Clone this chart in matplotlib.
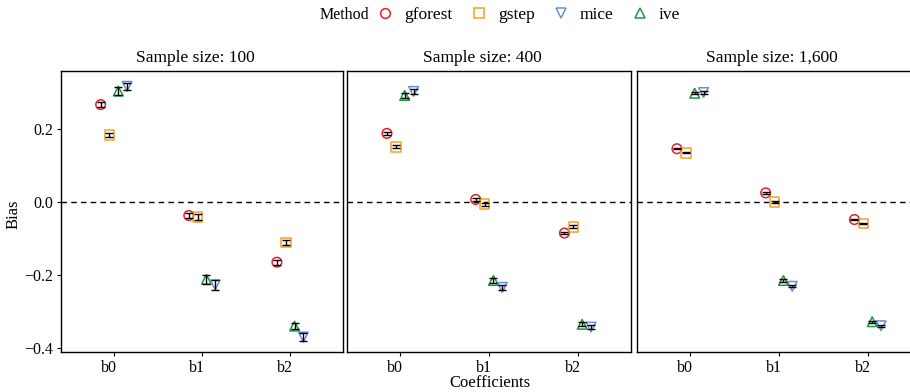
import matplotlib
matplotlib.use("Agg")
import matplotlib.pyplot as plt
import matplotlib.transforms as mtransforms
import numpy as np

plt.rcParams['font.family'] = ['Liberation Serif', 'DejaVu Serif']

coefs = ["b0", "b1", "b2"]
methods = ["gforest", "gstep", "mice", "ive"]
dodge_order = ["gforest", "gstep", "ive", "mice"]
panels = ["Sample size: 100", "Sample size: 400", "Sample size: 1,600"]

# bias values per panel, per method, per coefficient (b0, b1, b2)
bias_100 = {
    "gforest": [0.268, -0.036, -0.164],
    "gstep":   [0.185, -0.040, -0.110],
    "mice":    [0.318, -0.226, -0.369],
    "ive":     [0.305, -0.211, -0.339],
}
se_100 = {
    "gforest": [0.007, 0.008, 0.007],
    "gstep":   [0.006, 0.008, 0.006],
    "mice":    [0.010, 0.013, 0.010],
    "ive":     [0.010, 0.013, 0.009],
}
bias_400 = {
    "gforest": [0.189, 0.008, -0.084],
    "gstep":   [0.152, -0.005, -0.067],
    "mice":    [0.304, -0.233, -0.342],
    "ive":     [0.293, -0.214, -0.334],
}
se_400 = {
    "gforest": [0.004, 0.004, 0.004],
    "gstep":   [0.004, 0.004, 0.004],
    "mice":    [0.006, 0.007, 0.006],
    "ive":     [0.006, 0.007, 0.006],
}
bias_1600 = {
    "gforest": [0.147, 0.026, -0.047],
    "gstep":   [0.136, 0.001, -0.058],
    "mice":    [0.301, -0.230, -0.338],
    "ive":     [0.299, -0.214, -0.327],
}
se_1600 = {
    "gforest": [0.002, 0.002, 0.002],
    "gstep":   [0.002, 0.002, 0.002],
    "mice":    [0.003, 0.003, 0.003],
    "ive":     [0.003, 0.003, 0.003],
}
all_bias = [bias_100, bias_400, bias_1600]
all_se = [se_100, se_400, se_1600]

colors = {"gforest": "#E8202A", "gstep": "#F5A11F", "mice": "#6A8FD0", "ive": "#1E9645"}
markers = {"gforest": "o", "gstep": "s", "mice": "v", "ive": "^"}
offsets = {"gforest": -0.15, "gstep": -0.05, "ive": 0.05, "mice": 0.15}

W, H = 910, 392
fig = plt.figure(figsize=(W / 100, H / 100), dpi=100)

boxes = [(61, 343), (347, 631), (637, 921)]
top_px, bot_px = 71, 352
for i, (l, r) in enumerate(boxes):
    ax = fig.add_axes([l / W, 1 - bot_px / H, (r - l) / W, (bot_px - top_px) / H])
    x = np.arange(len(coefs))
    ax.axhline(0, color="black", linestyle=(0, (4, 3)), linewidth=1, zorder=1)
    for m in dodge_order:
        xs = x + offsets[m]
        ys = all_bias[i][m]
        es = all_se[i][m]
        ax.scatter(xs, ys, marker=markers[m], s=48, facecolors="none",
                   edgecolors=colors[m], linewidths=1.1, zorder=3)
        ax.errorbar(xs, ys, yerr=es, fmt="none", ecolor="black",
                    elinewidth=1.0, capsize=3, capthick=1.0, zorder=4)
    ax.set_xlim(-0.6, 2.6)
    ax.set_ylim(-0.41, 0.36)
    ax.set_xticks(x)
    ax.set_xticklabels(coefs)
    ax.set_yticks([-0.4, -0.2, 0.0, 0.2])
    ax.tick_params(axis="both", labelsize=11.5, length=3, width=0.8, colors="black", pad=2.5)
    shift = mtransforms.ScaledTranslation(-5 / 100, 0, fig.dpi_scale_trans)
    for lab in ax.get_xticklabels():
        lab.set_transform(lab.get_transform() + shift)
    if i == 0:
        ax.set_yticklabels(["\u22120.4", "\u22120.2", "0.0", "0.2"])
    else:
        ax.tick_params(axis="y", left=False, labelleft=False)
    for s in ax.spines.values():
        s.set_linewidth(1.0)
    ax.text(0.5 - 7 / (r - l), 1.0 + 5 / (bot_px - top_px), panels[i],
            transform=ax.transAxes, ha="center", va="bottom", fontsize=12.5)

fig.text(14 / W, 1 - 214 / H, "Bias", ha="center", va="center", rotation=90, fontsize=12)
fig.text(490 / W, 1 - 383 / H, "Coefficients", ha="center", va="center", fontsize=12)

# legend
fig.text(320 / W, 1 - 15 / H, "Method", ha="left", va="center", fontsize=11.5)
handles = [plt.Line2D([], [], linestyle="none", marker=markers[m], markersize=7,
                      markerfacecolor="none", markeredgecolor=colors[m], markeredgewidth=1.1)
           for m in methods]
leg = fig.legend(handles, methods, loc="center left", bbox_to_anchor=(375 / W, 1 - 15 / H),
                 ncol=4, frameon=False, fontsize=12.5, handletextpad=0.5, columnspacing=0.9,
                 handlelength=1.2, borderaxespad=0, borderpad=0)
fig.savefig("out.png", dpi=100)
